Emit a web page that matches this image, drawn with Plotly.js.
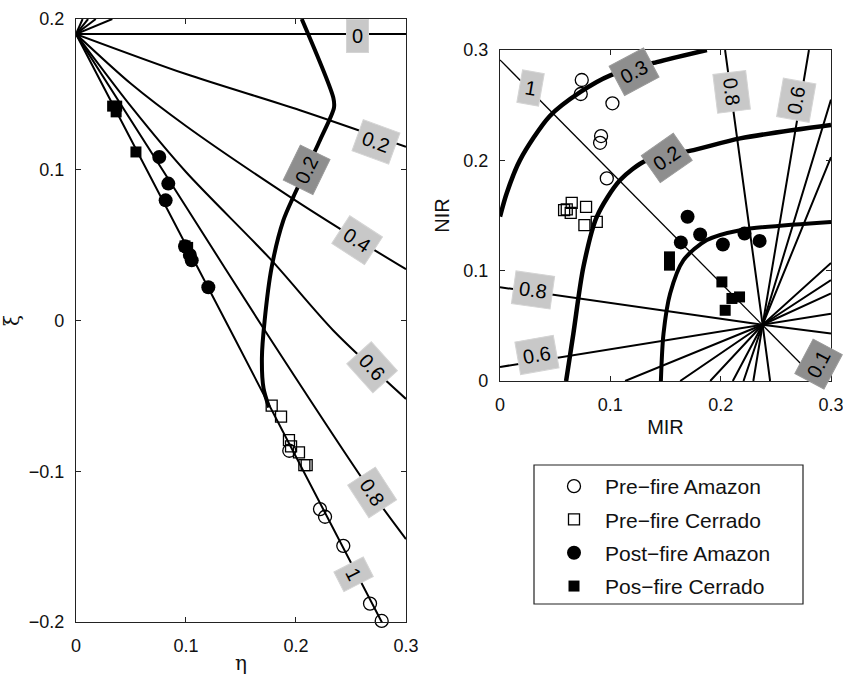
<!DOCTYPE html>
<html><head><meta charset="utf-8">
<script src="https://cdn.plot.ly/plotly-3.0.1.min.js"></script>
<style>html,body{margin:0;padding:0;background:#fff}#chart{width:843px;height:675px}</style>
</head><body><div id="chart"></div>
<script>
// ================= LEFT PANEL (eta, xi) =================
const etaTicks = [0, 0.1, 0.2, 0.3];
const xiTicks  = [-0.2, -0.1, 0, 0.1, 0.2];

// iso-lines radiating from (0, 0.19)
const isoL0_x  = [0, 0.3];                                   const isoL0_y  = [0.19, 0.19];
const isoL02_x = [0, 0.1, 0.2036, 0.3];                      const isoL02_y = [0.19, 0.1635, 0.1395, 0.1152];
const isoL04_x = [0, 0.05, 0.1, 0.1945, 0.255, 0.3];          const isoL04_y = [0.19, 0.157, 0.129, 0.082, 0.054, 0.034];
const isoL06_x = [0, 0.05, 0.1, 0.1764, 0.2339, 0.3];         const isoL06_y = [0.19, 0.142, 0.0985, 0.041, -0.0066, -0.052];
const isoL08_x = [0, 0.1, 0.172, 0.2688, 0.3];                const isoL08_y = [0.19, 0.0755, -0.007, -0.114, -0.145];
const isoL1_x  = [0, 0.14, 0.2815];                           const isoL1_y  = [0.19, -0.006, -0.205];
// short lines leaving the top edge
const topFanL_x = [0.006, 0.011, 0.018, 0.033];
const topFanL_y = [0.2, 0.2, 0.2, 0.2];
const originL = [0, 0.19];
// thick contour (0.2)
const thickL_x = [0.2052, 0.2340, 0.2345, 0.2218, 0.1976, 0.1885, 0.1779, 0.1715, 0.169, 0.1705, 0.1755];
const thickL_y = [0.2, 0.1475, 0.141, 0.1196, 0.082, 0.0664, 0.0354, 0.0, -0.025, -0.045, -0.0576];

// markers (left)
const preAmazonL_x  = [0.1939, 0.2218, 0.2264, 0.243, 0.2673, 0.2779];
const preAmazonL_y  = [-0.0864, -0.1251, -0.1302, -0.1495, -0.1878, -0.1993];
const preCerradoL_x = [0.1779, 0.1864, 0.1936, 0.1955, 0.2027, 0.2076, 0.2097];
const preCerradoL_y = [-0.0565, -0.0638, -0.0793, -0.0835, -0.0875, -0.0959, -0.0959];
const postAmazonL_x = [0.0757, 0.0839, 0.0815, 0.0991, 0.1035, 0.1052, 0.1203];
const postAmazonL_y = [0.1085, 0.0908, 0.0797, 0.0492, 0.0435, 0.0399, 0.0221];
const posCerradoL_x = [0.0333, 0.037, 0.0365, 0.0545, 0.0991, 0.1015];
const posCerradoL_y = [0.1422, 0.1422, 0.1384, 0.1118, 0.0495, 0.0485];

// labels (left)
const labL_text  = ['0', '0.2', '0.2', '0.4', '0.6', '0.8', '1'];
const labL_x     = [0.256, 0.273, 0.2097, 0.2552, 0.2688, 0.2688, 0.2521];
const labL_y     = [0.189, 0.1185, 0.0997, 0.0532, -0.031, -0.114, -0.1683];
const labL_angle = [0, 20, -64, 33, 48, 57, 63];
const labL_dark  = [false, false, true, false, false, false, false];

// ================= RIGHT PANEL (MIR, NIR) =================
const mirTicks = [0, 0.1, 0.2, 0.3];
const nirTicks = [0, 0.1, 0.2, 0.3];
const convR = [0.238, 0.051];
// lines through the convergence point: start -> convR -> end
const fanR_x0 = [0.1134, 0.1633, 0.1905, 0.211, 0.2207, 0.2296, 0.2448, 0, 0];
const fanR_y0 = [0, 0, 0, 0, 0, 0, 0, 0.085, 0.0127];
const fanR_x1 = [0.3, 0.3, 0.3, 0.3, 0.3, 0.28, 0.204, 0.3, 0.3];
const fanR_y1 = [0.0793, 0.0914, 0.107, 0.2029, 0.255, 0.3, 0.3, 0.043, 0.061];
const lineR1_x = [0, 0.238, 0.3];  const lineR1_y = [0.291, 0.051, -0.012];
// thick contours
const thickR03_x = [0, 0.006, 0.018, 0.045, 0.073, 0.1, 0.142, 0.1875];
const thickR03_y = [0.149, 0.17, 0.2, 0.24, 0.262, 0.277, 0.289, 0.3];
const thickR02_x = [0.0599, 0.0665, 0.0756, 0.0877, 0.1089, 0.1331, 0.1754, 0.2177, 0.3];
const thickR02_y = [0, 0.043, 0.1034, 0.1488, 0.1821, 0.2002, 0.2093, 0.2199, 0.232];
const thickR01_x = [0.1458, 0.1482, 0.1542, 0.1663, 0.1875, 0.2177, 0.3];
const thickR01_y = [0, 0.043, 0.0793, 0.1095, 0.1277, 0.1367, 0.1442];

// markers (right)
const preAmazonR_x  = [0.0741, 0.0732, 0.1019, 0.0916, 0.0907, 0.0968];
const preAmazonR_y  = [0.2728, 0.2601, 0.2517, 0.222, 0.2159, 0.1836];
const preCerradoR_x = [0.0581, 0.065, 0.0641, 0.078, 0.0765, 0.0877, 0.0605];
const preCerradoR_y = [0.1549, 0.1615, 0.1524, 0.1579, 0.1413, 0.1442, 0.1555];
const postAmazonR_x = [0.17, 0.1639, 0.1814, 0.202, 0.2216, 0.2353];
const postAmazonR_y = [0.1488, 0.1256, 0.1328, 0.1237, 0.1337, 0.127];
const posCerradoR_x = [0.1536, 0.1536, 0.2011, 0.2102, 0.2171, 0.2041];
const posCerradoR_y = [0.1125, 0.105, 0.0898, 0.0748, 0.0762, 0.0641];

// labels (right)
const labR_text  = ['1', '0.3', '0.8', '0.6', '0.2', '0.8', '0.6', '0.1'];
const labR_x     = [0.0278, 0.121, 0.2102, 0.2685, 0.1512, 0.0302, 0.0333, 0.2885];
const labR_y     = [0.2653, 0.2803, 0.2622, 0.2547, 0.2018, 0.0823, 0.0233, 0.0158];
const labR_angle = [10, -28, 83, -80, -35, 8, -10, -62];
const labR_dark  = [false, true, false, false, true, false, false, true];

const seriesNames = ['Pre\u2212fire Amazon', 'Pre\u2212fire Cerrado', 'Post\u2212fire Amazon', 'Pos\u2212fire Cerrado'];

// ================= BUILD =================
const FONT = 'Liberation Sans, Arial, Helvetica, sans-serif';
const traces = [];
function ln(xs, ys, w, xa, ya, shape) {
  traces.push({x: xs, y: ys, xaxis: xa, yaxis: ya, mode: 'lines', type: 'scatter',
    line: {color: '#000', width: w, shape: shape || 'linear', smoothing: 0.8},
    hoverinfo: 'skip', showlegend: false});
}
// left lines
ln(isoL0_x, isoL0_y, 2, 'x', 'y');
ln(isoL02_x, isoL02_y, 2, 'x', 'y', 'spline');
ln(isoL04_x, isoL04_y, 2, 'x', 'y', 'spline');
ln(isoL06_x, isoL06_y, 2, 'x', 'y', 'spline');
ln(isoL08_x, isoL08_y, 2, 'x', 'y', 'spline');
ln(isoL1_x, isoL1_y, 2, 'x', 'y', 'spline');
topFanL_x.forEach((xt, i) => ln([originL[0], xt], [originL[1], topFanL_y[i]], 2, 'x', 'y'));
ln(thickL_x, thickL_y, 4, 'x', 'y', 'spline');
// right lines
fanR_x0.forEach((x0, i) => ln([x0, convR[0], fanR_x1[i]], [fanR_y0[i], convR[1], fanR_y1[i]], 2, 'x2', 'y2'));
ln(lineR1_x, lineR1_y, 1.3, 'x2', 'y2');
ln(thickR03_x, thickR03_y, 4.5, 'x2', 'y2', 'spline');
ln(thickR02_x, thickR02_y, 4.5, 'x2', 'y2', 'spline');
ln(thickR01_x, thickR01_y, 4, 'x2', 'y2', 'spline');

const mstyles = [
  {symbol: 'circle-open', size: 13, color: '#000', line: {width: 1.3, color: '#000'}},
  {symbol: 'square-open', size: 11, color: '#000', line: {width: 1.3, color: '#000'}},
  {symbol: 'circle', size: 14, color: '#000', line: {width: 0}},
  {symbol: 'square', size: 11, color: '#000', line: {width: 0}}
];
const Lsets = [[preAmazonL_x, preAmazonL_y], [preCerradoL_x, preCerradoL_y], [postAmazonL_x, postAmazonL_y], [posCerradoL_x, posCerradoL_y]];
const Rsets = [[preAmazonR_x, preAmazonR_y], [preCerradoR_x, preCerradoR_y], [postAmazonR_x, postAmazonR_y], [posCerradoR_x, posCerradoR_y]];
Lsets.forEach((s, i) => traces.push({x: s[0], y: s[1], xaxis: 'x', yaxis: 'y', mode: 'markers', type: 'scatter',
  marker: mstyles[i], showlegend: false, hoverinfo: 'skip', cliponaxis: false}));
Rsets.forEach((s, i) => traces.push({x: s[0], y: s[1], xaxis: 'x2', yaxis: 'y2', mode: 'markers', type: 'scatter',
  marker: mstyles[i], name: seriesNames[i], legendgroup: 'g' + i, showlegend: true, hoverinfo: 'skip', cliponaxis: false}));

const annotations = [];
function lab(t, x, y, a, dark, xr, yr) {
  annotations.push({text: t, x: x, y: y, xref: xr, yref: yr, showarrow: false, textangle: a,
    font: {family: FONT, size: 20, color: '#000'}, bgcolor: dark ? '#8e8e8e' : '#c8c8c8',
    bordercolor: dark ? '#9a9a9a' : '#d4d4d4', borderwidth: 1, borderpad: 5});
}
labL_text.forEach((t, i) => lab(t, labL_x[i], labL_y[i], labL_angle[i], labL_dark[i], 'x', 'y'));
labR_text.forEach((t, i) => lab(t, labR_x[i], labR_y[i], labR_angle[i], labR_dark[i], 'x2', 'y2'));

function ax(domain, range, ticks, title, standoff, anchor) {
  return {domain: domain, range: range, tickvals: ticks, ticks: 'inside', ticklen: 5, tickwidth: 1,
    tickcolor: '#222', showline: true, linecolor: '#222', linewidth: 1.2, mirror: 'ticks',
    showgrid: false, zeroline: false, anchor: anchor, ticklabelstandoff: 7, ticklabeloverflow: 'allow',
    tickfont: {family: FONT, size: 18, color: '#111'},
    title: {text: title, font: {family: 'DejaVu Serif, Liberation Serif, serif', size: 20, color: '#111'}, standoff: standoff}};
}
const layout = {
  width: 843, height: 675, margin: {l: 0, r: 0, t: 0, b: 0},
  paper_bgcolor: '#fff', plot_bgcolor: '#fff', font: {family: FONT},
  xaxis:  ax([0.09015, 0.48161], [0, 0.3], etaTicks, 'η', 2, 'y'),
  yaxis:  ax([0.07852, 0.97185], [-0.2, 0.2], xiTicks, 'ξ', 10, 'x'),
  xaxis2: ax([0.59312, 0.98577], [0, 0.3], mirTicks, 'MIR', 6, 'y2'),
  yaxis2: ax([0.43556, 0.92593], [0, 0.3], nirTicks, 'NIR', 8, 'x2'),
  showlegend: true,
  legend: {x: 543 / 843, y: 1 - 466 / 675, xanchor: 'left', yanchor: 'top', bgcolor: 'rgba(0,0,0,0)',
    borderwidth: 0, font: {family: FONT, size: 21, color: '#111'}, itemwidth: 52,
    traceorder: 'grouped', tracegroupgap: 3},
  shapes: [{type: 'rect', xref: 'paper', yref: 'paper', x0: 534 / 843, x1: 803 / 843,
    y0: 1 - 604 / 675, y1: 1 - 465 / 675, line: {color: '#222', width: 1.2}, fillcolor: 'rgba(0,0,0,0)'}],
  annotations: annotations
};
layout.xaxis2.title.font = {family: FONT, size: 20, color: '#111'};
layout.yaxis2.title.font = {family: FONT, size: 20, color: '#111'};
Plotly.newPlot('chart', traces, layout, {staticPlot: true, displayModeBar: false});
</script>
</body></html>
